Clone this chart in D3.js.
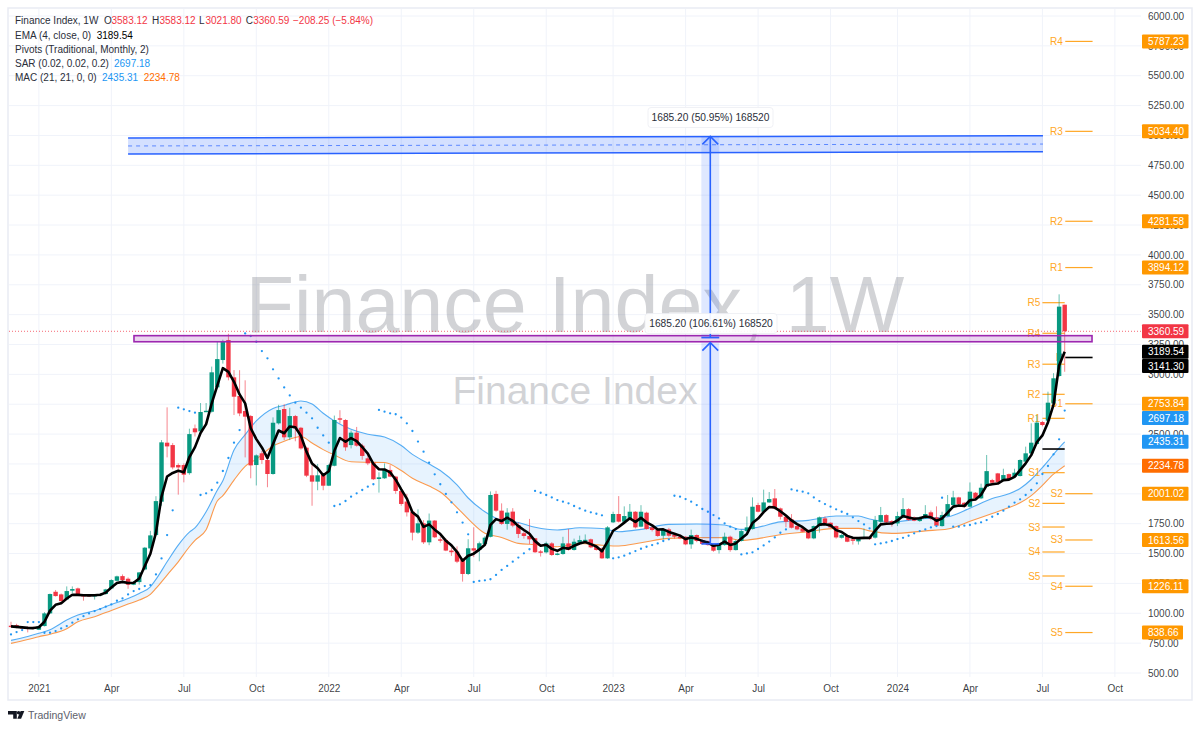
<!DOCTYPE html>
<html><head><meta charset="utf-8">
<script src="https://cdn.jsdelivr.net/npm/d3@7"></script>
<style>html,body{margin:0;background:#fff}svg{display:block}text{font-family:"Liberation Sans",Arial,sans-serif}</style>
</head><body><svg id="c" width="1200" height="730"></svg>
<script>
const opens=[896,901,885,885,885,862,893,999,1180,1158,1116,1189,1208,1152,1152,1145,1150,1161,1208,1272,1311,1289,1239,1261,1367,1543,1655,1934,2428,2408,2241,2241,2173,2548,2523,2690,2687,2891,3120,3287,2975,2819,2693,2651,2241,2339,2283,2166,2590,2710,2473,2651,2553,2386,2155,2102,2166,2068,2235,2632,2618,2408,2512,2403,2297,2261,2124,2130,2200,2144,2024,1935,1851,1675,1753,1594,1776,1619,1614,1525,1516,1446,1329,1544,1530,1580,1640,1999,1859,1748,1851,1739,1670,1647,1628,1518,1510,1585,1493,1496,1585,1530,1591,1610,1619,1557,1543,1460,1761,1831,1767,1794,1850,1725,1842,1719,1697,1649,1702,1655,1641,1641,1577,1655,1613,1605,1571,1529,1571,1641,1529,1605,1688,1705,1906,1850,1928,1962,1878,1808,1786,1730,1711,1697,1627,1730,1794,1758,1730,1632,1649,1619,1602,1627,1635,1633,1766,1822,1772,1752,1800,1872,1803,1772,1794,1845,1803,1730,1814,1906,1970,1925,1892,2009,1962,2059,2115,2171,2110,2165,2143,2149,2269,2339,2417,2601,2612,2757,2986,3583.12];
const highs=[929,912,890,890,888,896,1010,1165,1195,1165,1225,1225,1215,1155,1160,1158,1165,1205,1285,1315,1325,1300,1270,1345,1555,1690,1980,2450,2724,2425,2255,2255,2545,2580,2760,2760,3065,3273,3290,3340,3036,3035,2950,2660,2330,2360,2290,2640,2745,2750,2720,2660,2560,2395,2241,2250,2170,2250,2655,2700,2625,2530,2560,2420,2340,2265,2180,2255,2240,2150,2030,2000,1860,1870,1780,1835,1780,1640,1625,1545,1560,1450,1620,1720,1600,1645,2020,2025,1920,1880,1880,1760,1700,1790,1630,1530,1600,1595,1510,1640,1705,1625,1650,1660,1625,1565,1550,1730,1850,1981,1895,1915,1855,1905,1850,1725,1705,1710,1715,1665,1660,1645,1700,1660,1620,1610,1580,1590,1675,1650,1615,1700,1810,1970,1925,2035,2015,2040,1885,1815,1830,1735,1720,1700,1735,1810,1810,1760,1735,1665,1655,1625,1630,1710,1640,1815,1890,1830,1780,1850,1965,1880,1810,1810,1905,1860,1895,1850,1990,2025,1975,1930,2095,2015,2085,2325,2125,2175,2210,2170,2210,2290,2395,2590,2660,2610,2855,3010,3670,3583.12];
const lows=[885,874,870,840,865,860,890,995,1140,1095,1110,1170,1148,1105,1140,1115,1140,1155,1205,1268,1270,1205,1235,1240,1360,1525,1650,1900,2305,2205,1993,2096,2160,2480,2520,2690,2680,2880,3090,2950,2660,2650,2305,2130,2070,2250,2055,2160,2580,2450,2450,2440,2370,2140,1900,2030,2030,2065,2230,2590,2360,2380,2395,2285,2240,2115,2010,2125,2140,2000,1900,1810,1610,1665,1580,1570,1630,1590,1520,1480,1420,1265,1320,1470,1435,1575,1635,1850,1740,1700,1720,1630,1625,1580,1505,1475,1500,1480,1485,1490,1525,1525,1585,1600,1545,1525,1455,1455,1755,1760,1760,1780,1710,1720,1700,1685,1640,1620,1640,1625,1620,1570,1540,1595,1575,1565,1515,1500,1565,1515,1525,1600,1680,1700,1845,1845,1925,1870,1785,1720,1710,1695,1680,1620,1620,1675,1745,1715,1625,1625,1595,1575,1575,1620,1615,1625,1755,1755,1725,1730,1795,1775,1770,1765,1790,1780,1725,1725,1810,1900,1905,1885,1885,1950,1955,2055,2085,2090,2105,2115,2140,2145,2265,2330,2410,2565,2600,2750,2980,3021.8];
const closes=[885,879,876,873,873,893,999,1161,1144,1102,1186,1203,1152,1147,1147,1152,1161,1200,1278,1309,1278,1239,1261,1342,1549,1652,1939,2431,2397,2221,2221,2160,2500,2515,2685,2695,3017,3128,3273,2975,2813,2673,2646,2238,2322,2283,2166,2595,2701,2473,2651,2548,2380,2152,2102,2155,2068,2241,2618,2627,2389,2512,2403,2317,2255,2122,2138,2200,2144,2024,1915,1845,1675,1753,1594,1776,1636,1608,1525,1511,1432,1329,1544,1525,1586,1633,1990,1859,1748,1843,1734,1664,1647,1619,1511,1510,1585,1488,1500,1585,1530,1599,1613,1615,1552,1530,1460,1719,1831,1767,1814,1850,1719,1850,1705,1697,1647,1702,1649,1641,1627,1577,1655,1605,1580,1571,1524,1585,1641,1529,1605,1688,1719,1892,1850,1928,1956,1878,1808,1766,1716,1702,1683,1627,1730,1803,1752,1719,1635,1655,1599,1607,1624,1635,1630,1780,1822,1761,1752,1814,1872,1780,1775,1803,1831,1794,1733,1822,1914,1970,1914,1892,2018,1962,2051,2190,2093,2096,2157,2124,2177,2283,2339,2428,2596,2576,2763,2967,3567,3360.59];
const ema=[890,886,882,878,876,883,929,1022,1071,1083,1124,1155,1154,1151,1150,1151,1155,1173,1215,1253,1263,1254,1256,1291,1395,1498,1675,1977,2145,2175,2193,2180,2308,2391,2509,2583,2757,2905,3052,3021,2938,2832,2757,2549,2458,2388,2299,2417,2530,2507,2564,2557,2486,2353,2253,2214,2155,2189,2360,2467,2436,2467,2441,2392,2337,2251,2206,2204,2180,2118,2037,1960,1846,1809,1723,1744,1700,1663,1608,1569,1514,1440,1482,1499,1533,1573,1740,1788,1772,1800,1774,1730,1697,1666,1604,1566,1574,1539,1523,1548,1541,1565,1584,1596,1579,1559,1519,1599,1691,1722,1759,1795,1765,1799,1761,1736,1701,1702,1681,1665,1650,1621,1635,1623,1606,1592,1565,1573,1600,1572,1585,1626,1664,1755,1793,1847,1890,1885,1854,1818,1777,1747,1721,1684,1702,1742,1746,1736,1696,1680,1648,1632,1629,1631,1631,1691,1744,1750,1751,1777,1815,1801,1791,1796,1810,1804,1775,1794,1842,1893,1902,1898,1946,1953,1992,2071,2080,2086,2115,2119,2142,2198,2255,2324,2432,2489,2598,2746,3075,3189.54];
const sar=[823,843,859,926,926,926,837,837,851,873,893,921,949,976,999,1018,1035,1055,1074,1105,1124,1158,1186,1203,1228,1236,1325,1459,1655,1862,2721,2707,2693,2679,1990,2004,2032,2093,2191,2300,2428,2534,3343,3321,3273,3195,3134,3042,2966,2891,2824,2763,2721,2679,2632,2553,2489,2428,1898,1912,1940,1976,2004,2032,2060,2080,2702,2688,2674,2666,2638,2590,2526,2437,2353,2261,2163,2080,1999,1929,1845,1759,1661,1262,1271,1276,1285,1321,1363,1396,1432,1466,1502,1536,2024,2009,1990,1970,1948,1934,1920,1898,1878,1859,1845,1833,1820,null,1460,1468,1482,1501,1521,1540,1557,1571,1585,1605,1619,1984,1976,1956,1934,1906,1873,1850,1822,1794,1753,1725,1705,1493,1501,1510,1538,1568,1600,1635,1674,1702,2037,2026,2018,2004,1970,1939,1914,1892,1870,1850,1831,1803,1772,1744,1711,1577,1585,1593,1605,1621,1632,1649,1669,1688,1702,1719,1730,1967,null,1725,1725,1733,1739,1752,1761,1780,1808,1831,1859,1892,1927,1954,1990,2032,2088,2166,2233,2331,2456,2697.18];
const macBars=[0,3,5,7,10,12,15,18,21,23,25,26,28,30,32,33,35,37,38,40,42,44,47,49,52,54,56,58,61,64,67,70,72,75,77,80,82,85,88,91,94,98,102,106,109,113,118,123,128,131,134,138,143,148,152,154,158,164,168,172,176,179,181,183,185,187,188,189];
const macUpper=[773,805,832,862,943,985,1021,1074,1124,1166,1222,1284,1431,1571,1680,1715,1850,2030,2110,2367,2495,2610,2715,2740,2777,2752,2674,2610,2540,2498,2475,2405,2330,2250,2195,2075,1965,1850,1778,1760,1720,1697,1716,1710,1683,1702,1744,1747,1739,1702,1720,1765,1778,1814,1814,1789,1766,1794,1808,1880,1960,2000,2045,2120,2220,2330,2385,2435.31];
const macLower=[748,780,804,825,871,929,971,1024,1077,1111,1158,1208,1320,1431,1557,1610,1700,1940,1985,2115,2230,2290,2400,2440,2480,2425,2370,2325,2268,2264,2262,2195,2130,2065,2015,1885,1790,1670,1635,1585,1575,1557,1585,1570,1563,1590,1627,1633,1633,1610,1625,1658,1683,1711,1711,1690,1669,1690,1705,1770,1836,1885,1925,1985,2070,2165,2200,2234.78];
const axisBars=[5,18,31,44,57,70,83,96,108,121,134,147,159,172,185,198];
const axisLabels=["2021","Apr","Jul","Oct","2022","Apr","Jul","Oct","2023","Apr","Jul","Oct","2024","Apr","Jul","Oct"];
const priceTicks=[6000,5750,5500,5250,5000,4750,4500,4250,4000,3750,3500,3250,3000,2750,2500,2250,2000,1750,1500,1250,1000,750,500];
const prevPivotNames=["R5","R4","R3","R2","R1","P","S1","S2","S3","S4","S5"];
const prevPivotValues=[3600,3344,3085,2833,2632,2375,2177,1920,1722,1513,1312];
const curPivotNames=["R4","R3","R2","R1","P","S1","S2","S3","S4","S5"];
const curPivotValues=[5787.23,5034.40,4281.58,3894.12,3141.30,2753.84,2001.02,1613.56,1226.11,838.66];
const tagValues=[5787.23,5034.40,4281.58,3894.12,3360.59,3189.54,3141.30,2753.84,2697.18,2435.31,2234.78,2001.02,1613.56,1226.11,838.66];
const tagNudge=[0,0,0,0,0,0,8.5,0,7.5,0,0,0,0,0,0];
const tagColors=["#ff9800","#ff9800","#ff9800","#ff9800","#f23645","#000","#000","#ff9800","#2196f3","#2196f3","#ff6d00","#ff9800","#ff9800","#ff9800","#ff9800"];
const channelBars=[21,185.1], channelTop=[4979,4998], channelBottom=[4845,4864], channelMid=[4912,4928];
const boxBars=[22.06,193.9], boxValues=[3324,3273];
const rangeBar=125.43, rangeHalf=1.6;
const rangeFrom=[3307.5,1580.7], rangeTo=[4992.7,3265.9];
const rangeText=["1685.20 (50.95%) 168520","1685.20 (106.61%) 168520"];

const svg=d3.select("#c");
const x=d3.scaleLinear().domain([0,189]).range([11,1064.7]);
const y=d3.scaleLinear().domain([500,6000]).range([673,16]);
const GREEN="#089981",RED="#f23645",ORANGE="#ff9800";
const idx=d3.range(closes.length);

const grid=svg.append("g").attr("stroke","#f0f3fa").attr("stroke-width",1);
grid.selectAll("line.h").data(priceTicks).join("line").attr("x1",9).attr("x2",1141).attr("y1",d=>y(d)).attr("y2",d=>y(d));
grid.selectAll("line.v").data(axisBars).join("line").attr("x1",d=>x(d)).attr("x2",d=>x(d)).attr("y1",9).attr("y2",677);
svg.append("rect").attr("x",8).attr("y",8).attr("width",1184).attr("height",692).attr("fill","none").attr("stroke","#e9ebf3").attr("stroke-width",1.5);

svg.append("text").attr("x",575).attr("y",332).attr("text-anchor","middle").attr("font-size",79).attr("fill","#787b86").attr("opacity",.33).text("Finance Index, 1W");
svg.append("text").attr("x",575).attr("y",404).attr("text-anchor","middle").attr("font-size",39).attr("fill","#787b86").attr("opacity",.33).text("Finance Index");

const curve=d3.curveMonotoneX;
svg.append("path").attr("fill","#2196f3").attr("opacity",.11)
 .attr("d",d3.area().x(d=>x(d)).y0((d,i)=>y(macLower[i])).y1((d,i)=>y(macUpper[i])).curve(curve)(macBars));
svg.append("path").attr("fill","none").attr("stroke","#56adf4").attr("stroke-width",1.1)
 .attr("d",d3.line().x(d=>x(d)).y((d,i)=>y(macUpper[i])).curve(curve)(macBars));
svg.append("path").attr("fill","none").attr("stroke","#fb9a4e").attr("stroke-width",1.1)
 .attr("d",d3.line().x(d=>x(d)).y((d,i)=>y(macLower[i])).curve(curve)(macBars));

svg.append("line").attr("x1",9).attr("x2",1141).attr("y1",y(3360.59)).attr("y2",y(3360.59)).attr("stroke",RED).attr("stroke-opacity",.75).attr("stroke-dasharray","1 2");

function pivotSet(names,vals,b0,b1,labelX){
  const g=svg.append("g");
  g.selectAll("line").data(vals).join("line").attr("x1",x(b0)).attr("x2",x(b1))
   .attr("y1",d=>y(d)).attr("y2",d=>y(d)).attr("stroke",(d,i)=>names[i]=="P"?"#000":"#ffa726").attr("stroke-width",(d,i)=>names[i]=="P"?1.6:1.2);
  g.selectAll("text").data(vals).join("text").attr("x",labelX).attr("y",d=>y(d)+3.5).attr("text-anchor","end").attr("font-size",10)
   .attr("fill",(d,i)=>names[i]=="P"?"#333":"#ffa726").text((d,i)=>names[i]=="P"&&b0<186?"":names[i]);
}
pivotSet(prevPivotNames,prevPivotValues,185,189,x(185)-2);
pivotSet(curPivotNames,curPivotValues,189.1,194,x(189.1)-2.5);

const cg=svg.append("g");
cg.selectAll("line").data(idx).join("line").attr("x1",i=>x(i)).attr("x2",i=>x(i)).attr("y1",i=>y(highs[i])).attr("y2",i=>y(lows[i]))
 .attr("stroke",i=>closes[i]>=opens[i]?GREEN:RED).attr("stroke-opacity",.6).attr("stroke-width",1);
cg.selectAll("rect").data(idx).join("rect").attr("x",i=>x(i)-2.2).attr("width",4.4)
 .attr("y",i=>Math.min(y(opens[i]),y(closes[i]))).attr("height",i=>Math.max(1.4,Math.abs(y(opens[i])-y(closes[i]))))
 .attr("fill",i=>closes[i]>=opens[i]?GREEN:RED);

svg.append("path").attr("fill","none").attr("stroke","#000").attr("stroke-width",2.6).attr("stroke-linejoin","round")
 .attr("d",d3.line().x((d,i)=>x(i)).y(d=>y(d))(ema));

svg.append("g").selectAll("circle").data(idx.filter(i=>sar[i]!==null)).join("circle")
 .attr("cx",i=>x(i)).attr("cy",i=>y(sar[i])).attr("r",1.15).attr("fill","#2196f3");

svg.append("path").attr("fill","#2962ff").attr("fill-opacity",.2)
 .attr("d",d3.area().x((d,i)=>x(d)).y0((d,i)=>y(channelBottom[i])).y1((d,i)=>y(channelTop[i]))(channelBars));
[channelTop,channelBottom,channelMid].forEach((v,k)=>{
 svg.append("path").attr("fill","none").attr("stroke","#2962ff").attr("stroke-width",k==2?1:1.5).attr("stroke-dasharray",k==2?"4 4":null).attr("stroke-opacity",k==2?.7:1)
  .attr("d",d3.line().x(d=>x(d)).y((d,i)=>y(v[i]))(channelBars));
});
svg.append("rect").attr("x",x(boxBars[0])).attr("width",x(boxBars[1])-x(boxBars[0]))
 .attr("y",y(boxValues[0])).attr("height",y(boxValues[1])-y(boxValues[0]))
 .attr("fill","#9c27b0").attr("fill-opacity",.2).attr("stroke","#9c27b0").attr("stroke-width",1.6);
rangeFrom.forEach((f,k)=>{
 const g=svg.append("g"),xc=x(rangeBar),xa=x(rangeBar-rangeHalf),xb=x(rangeBar+rangeHalf),y0=y(f),y1=y(rangeTo[k]);
 g.append("rect").attr("x",xa).attr("width",xb-xa).attr("y",y1).attr("height",y0-y1).attr("fill","#2962ff").attr("fill-opacity",.15);
 g.append("line").attr("x1",xc).attr("x2",xc).attr("y1",y0).attr("y2",y1).attr("stroke","#2962ff").attr("stroke-width",1.6);
 g.append("line").attr("x1",xa).attr("x2",xb).attr("y1",y0).attr("y2",y0).attr("stroke","#2962ff").attr("stroke-width",1.6);
 g.append("path").attr("fill","none").attr("stroke","#2962ff").attr("stroke-width",1.6)
  .attr("d",d3.line()([[xa+1,y1+8],[xc,y1],[xb-1,y1+8]]));
 const tx=k==0?710.5:711, ty=k==0?117.5:323.5, w=k==0?125:132;
 g.append("rect").attr("x",tx-w/2).attr("y",ty-10).attr("width",w).attr("height",20).attr("rx",3)
  .attr("fill","#fff").attr("fill-opacity",.92).attr("stroke","#eceef3").attr("stroke-width",.8);
 g.append("text").attr("x",tx).attr("y",ty+3.6).attr("text-anchor","middle").attr("font-size",10.2).attr("fill","#2a2e39").text(rangeText[k]);
});

const pa=svg.append("g").attr("transform","translate(1148,0)").call(d3.axisRight(y).tickValues(priceTicks).tickSize(0).tickPadding(0).tickFormat(d3.format(".2f")));
pa.select(".domain").remove();
pa.selectAll("text").attr("font-size",10).attr("fill","#131722").attr("fill-opacity",.85).style("font-family",'"Liberation Sans",Arial,sans-serif');

const tg=svg.append("g").selectAll("g").data(tagValues).join("g").attr("transform",(d,i)=>`translate(1142,${y(d)+tagNudge[i]})`);
tg.append("rect").attr("y",-7).attr("height",14).attr("width",d=>d<1000?41:46.5).attr("rx",1).attr("fill",(d,i)=>tagColors[i]);
tg.append("text").attr("x",6).attr("y",3.6).attr("font-size",10).attr("fill","#fff").text(d=>d.toFixed(2));

const ta=svg.append("g").attr("transform","translate(0,683)").call(d3.axisBottom(x).tickValues(axisBars).tickSize(0).tickPadding(2).tickFormat((d,i)=>axisLabels[i]));
ta.select(".domain").remove();
ta.selectAll("text").attr("font-size",10).attr("fill","#131722").attr("fill-opacity",.85).style("font-family",'"Liberation Sans",Arial,sans-serif');

const lg=svg.append("g").attr("font-size",10).attr("fill","#2a2e39");
function leg(xp,yp,t,c){lg.append("text").attr("x",xp).attr("y",yp).attr("fill",c||"#2a2e39").text(t);}
leg(15,24.2,"Finance Index, 1W");
[["O",104],["H",152],["L",199],["C",245.7]].forEach(([k,p],i)=>{leg(p,24.2,k);leg(p+7.5-(k=="L"?1:0),24.2,["3583.12","3583.12","3021.80","3360.59"][i],RED);});
leg(293,24.2,"−208.25 (−5.84%)",RED);
leg(15,38.5,"EMA (4, close, 0)");leg(96.7,38.5,"3189.54","#000");
leg(15,52.8,"Pivots (Traditional, Monthly, 2)");
leg(15,66.8,"SAR (0.02, 0.02, 0.2)");leg(114,66.8,"2697.18","#2196f3");
leg(15,80.8,"MAC (21, 21, 0, 0)");leg(102,80.8,"2435.31","#2196f3");leg(143.7,80.8,"2234.78","#ff6d00");

const logo=svg.append("g").attr("fill","#131722");
logo.append("path").attr("d","M8 711h8.8v7.7h-3.6v-4.1H8z");
logo.append("circle").attr("cx",18.6).attr("cy",712.8).attr("r",1.8);
logo.append("path").attr("d","M20.6 711h3.7l-3.2 7.7h-3.8z");
svg.append("text").attr("x",28).attr("y",719).attr("font-size",10.5).attr("fill","#5d606b").text("TradingView");
</script></body></html>
